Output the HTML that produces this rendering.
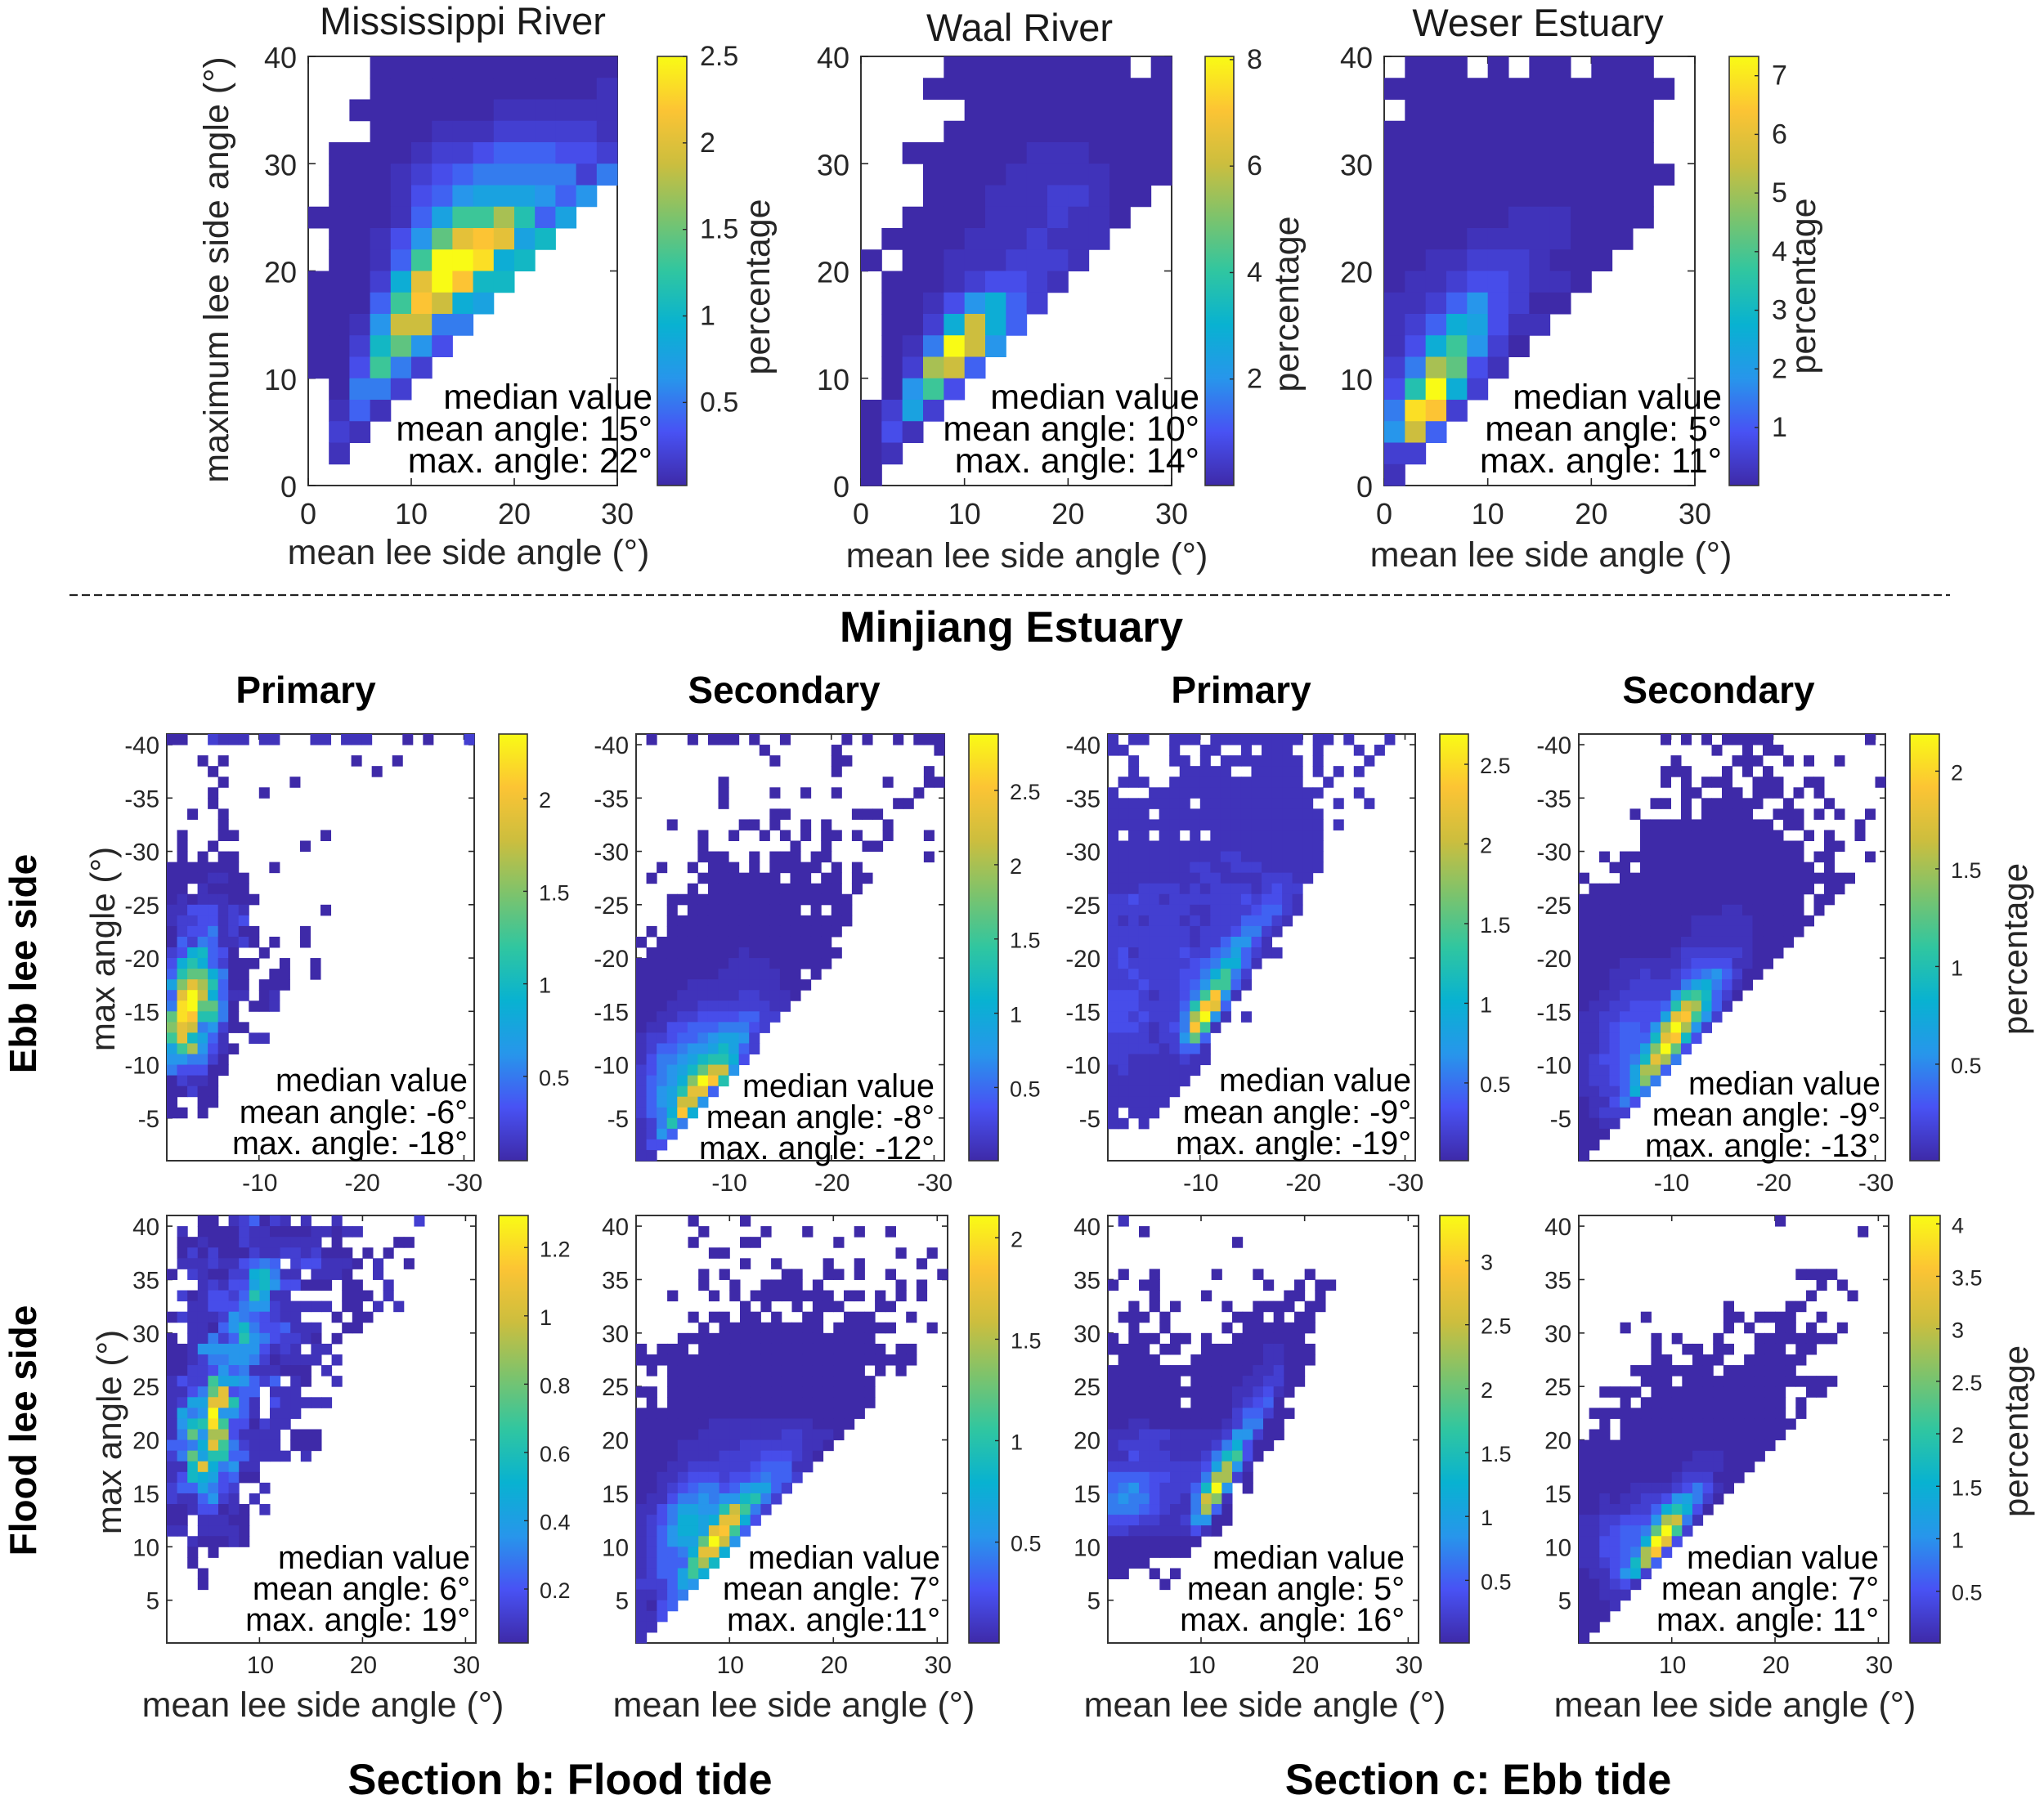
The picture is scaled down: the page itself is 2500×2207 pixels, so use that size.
<!DOCTYPE html>
<html lang="en">
<head>
<meta charset="utf-8">
<title>Lee side angle distributions</title>
<style>
html,body{margin:0;padding:0;background:#fff;}
svg{display:block;font-family:"Liberation Sans",Arial,sans-serif;}
text{fill:#262626;}
.hd{fill:#000;font-weight:bold;}
</style>
</head>
<body>
<svg id="figure" xmlns="http://www.w3.org/2000/svg" width="2500" height="2207" viewBox="0 0 2500 2207">
<defs><linearGradient id="parula" x1="0" y1="1" x2="0" y2="0"></linearGradient></defs>
<rect width="2500" height="2207" fill="#fff"/>
<line x1="85" y1="728" x2="2385" y2="728" stroke="#222" stroke-width="2.2" stroke-dasharray="10 5"/>
<text class="hd" x="1237" y="785" font-size="52.5" text-anchor="middle">Minjiang Estuary</text>
<text class="hd" x="374" y="860" font-size="46" text-anchor="middle">Primary</text>
<text class="hd" x="959" y="860" font-size="46" text-anchor="middle">Secondary</text>
<text class="hd" x="1518" y="860" font-size="46" text-anchor="middle">Primary</text>
<text class="hd" x="2102" y="860" font-size="46" text-anchor="middle">Secondary</text>
<text class="hd" x="685" y="2195" font-size="52.5" text-anchor="middle">Section b: Flood tide</text>
<text class="hd" x="1808" y="2195" font-size="52.5" text-anchor="middle">Section c: Ebb tide</text>
<text class="hd" x="44" y="1179" font-size="46" text-anchor="middle" transform="rotate(-90 44 1179)">Ebb lee side</text>
<text class="hd" x="44" y="1750" font-size="46" text-anchor="middle" transform="rotate(-90 44 1750)">Flood lee side</text>
</svg>
<script>
// Heatmap levels: 0 = no data, 1..20 = colour level (1 darkest, 20 yellow).
const mississippiLevels = [
[0,0,0,1,1,1,1,1,1,1,1,1,1,1,1],
[0,0,0,1,1,1,1,1,1,1,1,1,1,1,2],
[0,0,1,1,1,1,1,1,1,2,2,2,2,2,2],
[0,0,0,1,1,1,2,2,2,3,3,3,3,3,2],
[0,1,1,1,1,2,3,3,4,5,5,5,4,4,3],
[0,1,1,1,2,3,4,5,6,6,6,6,6,3,6],
[0,1,1,1,2,4,5,7,8,8,8,7,5,7],
[1,1,1,1,2,5,8,12,12,15,11,5,8],
[0,1,1,2,4,7,13,17,18,17,8,10],
[0,1,1,2,5,12,20,20,19,9,10],
[1,1,1,3,9,17,20,18,10,10],
[1,1,1,5,12,18,16,9,8],
[1,1,2,7,16,16,6,6],
[1,1,3,10,13,7,4],
[1,1,4,12,6,3],
[0,1,6,6,3],
[0,2,5,2],
[0,3,2],
[0,2],
[]];
const waalLevels = [
[0,0,0,0,1,1,1,1,1,1,1,1,1,0,1],
[0,0,0,1,1,1,1,1,1,1,1,1,1,1,1],
[0,0,0,0,0,1,1,1,1,1,1,1,1,1,1],
[0,0,0,0,1,1,1,1,1,1,1,1,1,1,1],
[0,0,1,1,1,1,1,1,2,2,2,1,1,1,1],
[0,0,0,1,1,1,1,2,2,2,2,2,1,1,1],
[0,0,0,1,1,1,2,2,2,3,3,2,1,1],
[0,0,1,1,1,1,2,2,2,3,2,2,1],
[0,1,1,1,1,2,2,2,3,2,2,2],
[1,0,1,1,2,2,2,3,3,3,2],
[0,1,1,1,2,3,4,4,3,2],
[0,1,1,2,4,7,9,5,3],
[0,1,1,3,9,16,9,5],
[0,1,2,6,20,16,7],
[0,1,3,15,16,5],
[0,1,7,12,4],
[1,3,8,3],
[1,4,2],
[1,2],
[1]];
const weserLevels = [
[0,1,1,1,0,1,0,1,1,0,1,1,1],
[1,1,1,1,1,1,1,1,1,1,1,1,1,1],
[0,1,1,1,1,1,1,1,1,1,1,1,1],
[1,1,1,1,1,1,1,1,1,1,1,1,1],
[1,1,1,1,1,1,1,1,1,1,1,1,1],
[1,1,1,1,1,1,1,1,1,1,1,1,1,1],
[1,1,1,1,1,1,1,1,1,1,1,1,1],
[1,1,1,1,1,1,2,2,2,1,1,1,1],
[1,1,1,1,2,2,2,2,2,1,1,1],
[1,1,2,2,3,3,3,2,1,1,1],
[1,2,2,3,4,4,3,2,2,1],
[2,2,3,5,7,4,3,1,1],
[2,3,5,9,8,4,2,2],
[2,4,9,12,7,3,1],
[3,6,15,13,4,2],
[4,11,20,9,3],
[6,19,18,3],
[7,16,5],
[3,3],
[2]];
const ebbPrimaryLevels = [
[1,1,0,0,3,2,2,2,0,2,2,0,0,0,2,2,0,2,2,2,0,0,0,1,0,1,0,0,0,3],
[],
[0,0,0,1,0,1,0,0,0,0,0,0,0,0,0,0,0,0,1,0,0,0,1],
[0,0,0,0,1,0,0,0,0,0,0,0,0,0,0,0,0,0,0,0,1],
[0,0,0,0,0,1,0,0,0,0,0,0,1],
[0,0,0,0,1,0,0,0,0,1],
[0,0,0,0,1],
[0,0,1,0,0,1],
[0,0,0,0,0,1],
[0,1,0,0,0,1,1,0,0,0,0,0,0,0,0,1],
[0,1,0,0,1,0,0,0,0,0,0,0,0,1],
[0,1,0,1,0,1,1],
[1,1,1,1,1,1,1,0,0,0,1],
[1,1,1,1,2,2,1,1],
[1,1,0,2,1,1,1,1],
[1,2,1,2,2,2,1,1,1],
[2,2,4,4,4,2,3,2,0,0,0,0,0,0,0,1],
[2,3,3,4,4,2,3,4],
[1,3,4,4,6,2,3,1,1,0,0,0,0,1],
[1,5,3,6,5,2,2,3,1,0,1,0,0,1],
[3,4,9,10,5,4,1,0,0,1],
[4,9,11,9,5,3,1,1,1,0,0,1,0,0,1],
[5,11,13,13,9,6,1,1,0,0,1,1,0,0,1],
[8,14,17,15,11,5,1,1,0,1,1,1],
[5,17,20,16,9,5,2,2,0,1,2],
[6,19,20,13,13,6,1,0,1,1,2],
[13,19,18,11,11,6,1],
[14,17,16,6,7,3,1,1],
[12,17,10,8,5,2,0,0,2,2],
[8,12,15,7,4,2,1],
[7,7,6,6,3,1],
[6,4,4,4,1,1],
[1,3,2,2,1],
[1,1,3,1,1],
[1,0,0,1,1],
[1,1,0,1],
[],[],[],[]];
const ebbSecondaryLevels = [
[0,1,0,0,0,1,0,1,1,1,0,1,0,0,1,0,0,0,0,0,1,0,1,0,0,1,0,1,1,1],
[0,0,0,0,0,0,0,0,0,0,0,0,1,0,0,0,0,0,0,1,0,0,0,0,0,0,0,0,0,1],
[0,0,0,0,0,0,0,0,0,0,0,0,0,1,0,0,0,0,0,1,1],
[0,0,0,0,0,0,0,0,0,0,0,0,0,0,0,0,0,0,0,1,0,0,0,0,0,0,0,0,1],
[0,0,0,0,0,0,0,0,1,0,0,0,0,0,0,0,0,0,0,0,0,0,0,0,1,0,0,0,1,1],
[0,0,0,0,0,0,0,0,1,0,0,0,0,1,0,0,1,0,0,1,0,0,0,0,0,0,0,1],
[0,0,0,0,0,0,0,0,1,0,0,0,0,0,0,0,0,0,0,0,0,0,0,0,0,1,1],
[0,0,0,0,0,0,0,0,0,0,0,0,0,1,1,0,0,0,0,0,0,1,1,1],
[0,0,0,1,0,0,0,0,0,0,1,1,0,1,0,0,1,0,1,0,0,0,0,0,1],
[0,0,0,0,0,0,1,0,0,1,0,0,1,0,1,0,1,0,1,1,0,1,0,0,1,0,0,0,1],
[0,0,0,0,0,0,1,0,0,0,0,0,0,0,0,1,0,0,1,0,0,0,1,1],
[0,0,0,0,0,0,1,1,1,0,0,1,0,1,1,1,0,1,1,0,0,0,0,0,0,0,0,0,1],
[0,0,1,0,0,1,0,1,1,1,0,1,0,1,1,1,1,1,0,1,0,1],
[0,1,0,0,0,0,1,1,1,1,1,1,1,1,0,1,1,0,1,1,0,1,1],
[0,0,0,0,0,1,0,1,1,1,1,1,1,1,1,1,1,1,1,1,0,1],
[0,0,0,1,1,1,1,1,1,1,1,1,1,1,1,1,1,1,1,1,1],
[0,0,0,1,0,1,1,1,1,1,1,1,1,1,1,1,0,1,0,1,1],
[0,0,0,1,1,1,1,1,1,1,1,1,1,1,1,1,1,1,1,1,1],
[0,1,0,1,1,1,1,1,1,1,1,1,1,1,1,1,1,1,1,1],
[1,0,1,1,1,1,1,1,1,1,1,1,1,1,1,1,1,1,1],
[0,1,1,1,1,1,1,1,1,1,2,1,1,1,1,1,1,1,1,1],
[1,1,1,1,1,1,1,1,1,2,2,2,2,1,1,1,1,1,1],
[1,1,1,1,1,1,1,1,2,2,2,2,2,2,1,1,0,1],
[1,1,1,1,1,2,2,2,2,2,2,2,2,2,1,1,1],
[1,1,1,1,2,2,2,2,2,2,3,3,2,2,2,1],
[1,1,1,2,2,2,3,3,3,3,3,3,3,2,2],
[1,1,2,2,3,3,4,4,4,4,5,5,3,3],
[1,2,2,4,4,5,5,5,6,6,6,4,3],
[2,3,3,4,5,5,6,7,8,8,7,3],
[2,3,5,5,6,7,7,8,10,8,5,3],
[2,4,6,6,7,8,10,11,11,9,4],
[3,4,6,7,8,10,13,16,16,7],
[3,5,6,7,9,14,20,18,11],
[3,5,7,8,11,17,17,5],
[3,5,7,8,16,16,7],
[3,5,6,9,18,9],
[2,3,6,11,6],
[2,3,7,5],
[2,4,4],
[2,2],
[2]].slice(0,40);
const ebbPrimary2Levels = [
[2,0,2,2,0,0,2,2,2,0,2,2,2,2,2,2,2,2,2,0,2,2,0,2,0,0,0,2],
[2,2,0,0,0,0,2,0,0,2,2,0,0,2,0,2,2,2,0,0,2,0,0,0,2,0,2],
[0,0,2,0,0,0,2,2,0,2,0,2,2,2,2,2,2,2,2,0,2,0,0,0,0,2],
[0,0,2,0,0,0,0,2,2,2,2,2,0,0,2,2,2,2,2,0,2,0,2,0,2],
[0,2,2,2,0,0,2,2,2,2,2,2,2,2,2,2,2,2,2,0,0,2],
[2,0,0,0,2,2,2,2,2,2,2,2,2,2,2,2,2,2,2,2,2,0,0,0,2],
[2,2,2,2,2,2,2,2,0,2,2,2,2,2,2,2,2,2,2,2,0,0,2,0,0,2],
[2,2,2,2,0,2,2,2,2,2,2,2,2,2,2,2,2,2,2,2,2],
[2,2,2,2,2,2,2,2,2,2,2,2,2,2,2,2,2,2,2,2,2,0,2],
[2,0,2,2,0,2,2,0,2,0,2,2,2,2,2,2,2,2,2,2,2],
[2,2,2,2,2,2,2,2,2,2,2,2,2,2,2,2,2,2,2,2,2],
[2,2,2,2,2,2,2,2,2,2,2,3,3,2,2,2,2,2,2,2,2],
[2,2,2,2,2,2,2,2,3,3,2,2,3,3,3,2,2,2,2,2,2],
[2,2,2,2,2,2,2,2,2,3,3,2,2,2,2,3,3,3,2,2],
[2,2,2,3,3,3,3,2,3,2,3,3,3,3,2,3,4,3,3],
[3,3,4,3,3,2,3,3,3,3,3,3,3,4,3,4,4,3,2],
[3,3,3,3,3,3,3,3,2,2,3,3,3,3,4,5,5,3,2],
[3,2,3,2,3,3,3,2,3,2,3,3,3,5,5,5,3,2],
[3,3,3,3,3,3,3,3,2,3,3,3,4,6,6,3,2],
[3,3,3,3,3,3,3,3,2,3,3,5,7,7,4,2],
[3,4,2,3,3,3,3,4,3,3,5,6,8,5,3,2,2],
[3,4,3,3,3,3,3,3,4,5,6,9,9,5,2],
[3,3,4,3,3,3,3,4,4,6,9,12,6,3],
[3,3,3,4,3,3,3,4,5,7,12,12,5,2],
[4,4,4,3,2,3,3,4,6,12,18,7,2],
[4,4,4,3,3,3,3,5,11,18,17,5],
[4,4,3,4,3,3,3,6,15,20,7,2,0,2],
[4,4,4,3,2,3,4,6,18,12,2],
[3,3,3,3,2,3,3,7,13,5],
[3,3,3,3,3,2,3,5,5,2],
[3,3,2,2,2,2,2,3,2,2],
[2,3,2,2,2,2,2,2,2],
[2,2,2,2,2,2,2,2],
[2,2,2,2,2,2,2],
[2,2,2,2,2,2],
[2,0,2,2,2],
[2,2,0,2],
[],[],[]];
const ebbSecondary2Levels = [
[0,0,0,0,0,0,0,0,1,0,1,0,1,0,1,1,1,1,1,0,0,0,0,0,0,0,0,0,1],
[0,0,0,0,0,0,0,0,0,0,0,0,0,1,0,0,1,0,1,1],
[0,0,0,0,0,0,0,0,0,1,0,0,0,0,0,1,1,1,0,0,1,0,1,0,0,1],
[0,0,0,0,0,0,0,0,1,1,1,0,0,0,1,0,1,0,1],
[0,0,0,0,0,0,0,0,1,0,1,0,1,1,1,0,0,1,1,1,0,0,1,1,0,0,0,0,0,1],
[0,0,0,0,0,0,0,0,0,0,1,1,0,0,1,1,0,1,1,1,0,1,0,1],
[0,0,0,0,0,0,0,1,1,0,1,0,1,1,1,1,1,1,0,0,1,0,0,0,1],
[0,0,0,0,0,1,0,0,0,0,1,0,1,1,1,1,1,0,0,1,1,1,0,1,0,1,0,0,1],
[0,0,0,0,0,0,1,1,1,1,1,1,1,1,1,1,1,1,1,0,1,1,0,0,0,0,0,1],
[0,0,0,0,0,0,1,1,1,1,1,1,1,1,1,1,1,1,1,1,0,0,1,0,1,0,0,1],
[0,0,0,0,0,0,1,1,1,1,1,1,1,1,1,1,1,1,1,1,1,1,0,0,1,1],
[0,0,1,0,1,1,1,1,1,1,1,1,1,1,1,1,1,1,1,1,1,1,0,1,1,0,0,0,1],
[0,0,0,1,1,0,1,1,1,1,1,1,1,1,1,1,1,1,1,1,1,1,1,0,1],
[1,0,0,0,1,1,1,1,1,1,1,1,1,1,1,1,1,1,1,1,1,1,1,1,1,1,1],
[0,1,1,1,1,1,1,1,1,1,1,1,1,1,1,1,1,1,1,1,1,1,1,0,1,1],
[1,1,1,1,1,1,1,1,1,1,1,1,1,1,1,1,1,1,1,1,1,1,0,1,1],
[1,1,1,1,1,1,1,1,1,1,1,1,1,1,2,2,1,1,1,1,1,1,0,1],
[1,1,1,1,1,1,1,1,1,1,1,2,2,2,2,2,2,1,1,1,1,1,1],
[1,1,1,1,1,1,1,1,1,1,1,2,2,2,2,2,2,1,1,1,1,1],
[1,1,1,1,1,1,1,1,1,1,2,2,2,2,2,2,2,1,1,1,1],
[1,1,1,1,1,1,1,1,1,2,3,3,3,3,3,3,2,1,1,1],
[1,1,1,1,2,2,2,2,2,2,3,4,4,4,4,2,2,1,1],
[1,1,1,2,2,2,3,2,2,3,4,5,6,7,5,3,1,1],
[1,1,1,2,2,3,3,3,3,3,6,8,9,6,4,2,1],
[1,1,2,2,3,3,3,3,3,7,11,12,10,5,3,1],
[1,2,2,3,3,4,4,4,5,11,16,15,9,5,2],
[2,2,3,3,4,4,4,4,8,17,18,12,7,3],
[2,2,3,4,5,5,4,7,15,20,15,7,3],
[2,2,3,4,5,5,5,10,17,18,10,4],
[2,2,3,4,5,5,8,14,20,13,4],
[2,3,4,4,5,6,10,17,15,6],
[2,3,3,4,5,8,15,15,5],
[2,3,3,4,5,8,14,6],
[2,2,3,3,5,9,6],
[1,2,2,4,6,4],
[1,2,3,3,3],
[1,1,2,2],
[1,1,1],
[1,1],
[1]];
const floodPrimaryLevels = [
[0,0,0,1,1,0,2,3,5,1,3,2,0,2,0,0,2,0,0,0,0,0,0,0,3],
[0,2,0,1,1,1,1,3,2,2,1,1,1,1,2,2,1,2,2],
[0,1,1,2,1,1,1,3,2,2,2,2,2,2,2,0,1,0,0,0,0,0,1,1],
[0,1,3,1,3,1,1,1,3,2,2,3,3,2,3,1,1,1,0,1,0,1],
[0,2,2,2,3,2,2,4,5,6,5,0,3,4,4,2,2,2,1,0,2,0,0,1],
[1,0,3,2,1,1,3,3,9,10,6,2,2,0,2,2,2,1,0,0,2],
[0,0,0,2,3,2,4,4,8,10,7,4,4,1,1,1,0,1,1,0,0,2],
[0,3,1,2,4,4,3,5,11,8,2,2,0,0,0,0,0,1,1,1,0,2],
[0,0,2,2,4,4,4,6,7,7,3,2,2,2,2,2,0,1,1,0,2,0,2],
[1,3,2,2,2,3,7,6,5,4,3,2,2,0,0,0,1,0,1,1],
[0,0,2,2,1,5,7,10,6,4,4,5,2,2,2,0,0,1,1],
[1,0,2,2,6,3,5,11,7,6,4,3,3,2,1,0,1],
[1,1,2,7,7,7,7,7,7,4,2,3,2,0,2,2],
[1,1,2,3,6,6,7,7,6,3,1,2,2,2,2,0,2],
[1,1,3,3,4,7,5,6,2,2,2,1,1,1,0,2],
[2,4,3,3,12,8,8,7,5,3,5,0,2,1,0,0,2],
[2,2,4,6,13,17,4,5,5,0,2,2,2],
[2,3,8,8,17,17,11,5,2,0,4,2,2,2,2,2],
[2,8,6,7,20,7,7,5,2,0,2,2,2],
[2,7,10,11,19,12,4,4,1,3,2,2],
[2,6,13,7,15,15,4,2,2,2,2,0,1,1,1],
[5,5,6,9,17,12,6,3,2,2,2,0,1,1,1],
[3,6,13,8,11,11,5,5,2,2,2,2,0,2],
[2,2,10,17,9,6,7,2,2],
[2,4,10,9,8,4,5,1,1],
[3,5,5,8,6,4,3,0,0,2],
[3,2,2,5,7,3,2,0,2],
[1,1,2,4,4,1,2,1,0,2],
[1,1,0,2,2,2,1,1],
[2,2,0,2,2,2,2,1],
[0,0,2,1,1,1,2,1],
[0,0,1,0,1],
[0,0,1],
[0,0,0,1],
[0,0,0,1],
[],[],[],[],[]];
const floodSecondaryLevels = [
[0,0,0,0,0,1,0,0,0,0,1],
[0,0,0,0,0,0,1,0,0,0,0,0,1,0,0,0,1,0,0,0,0,1,0,0,1],
[0,0,0,0,0,1,0,0,0,0,1,1,0,0,0,0,0,0,0,1],
[0,0,0,0,0,0,0,1,1,0,0,0,0,0,0,0,0,0,0,0,0,0,0,0,0,1,0,0,1],
[0,0,0,0,0,0,0,0,0,0,1,0,0,1,0,0,0,0,1,0,0,1,0,0,0,0,0,1],
[0,0,0,0,0,0,1,0,1,0,0,0,0,0,1,1,0,0,1,1,0,1,0,0,1,0,0,0,0,1],
[0,0,0,0,0,0,1,0,0,1,0,0,1,1,1,1,0,1,0,0,0,0,0,0,0,1,0,1],
[0,0,0,1,0,0,0,1,0,1,0,1,1,1,1,1,1,1,1,0,1,1,0,1,0,1,0,1],
[0,0,0,0,0,0,0,0,0,0,1,0,1,0,0,1,0,1,1,1,0,0,0,1,1],
[0,0,0,0,0,1,0,1,1,0,1,1,0,1,0,0,1,1,0,0,1,1,1,0,0,0,1],
[0,0,0,0,0,0,1,0,1,1,1,1,1,1,1,1,1,1,0,1,1,1,1,1,1,0,0,0,1],
[0,0,0,0,1,1,1,1,1,1,1,1,1,1,1,1,1,1,1,1,1,1,1],
[1,0,1,1,1,0,1,1,1,1,1,1,1,1,1,1,1,1,1,1,1,1,1,1,0,1,1],
[1,1,1,1,1,1,1,1,1,1,1,1,1,1,1,1,1,1,1,1,1,1,1,1,1,1,1],
[0,1,0,1,1,1,1,1,1,1,1,1,1,1,1,1,1,1,1,1,1,1,0,1,0,1],
[0,0,0,1,1,1,1,1,1,1,1,1,1,1,1,1,1,1,1,1,1,1,1],
[1,1,0,1,1,1,1,1,1,1,1,1,1,1,1,1,1,1,1,1,1,1,1],
[0,1,0,1,1,1,1,1,1,1,1,1,1,1,1,1,1,1,1,1,1,1,1],
[1,1,1,1,1,1,1,1,1,1,1,1,1,1,1,1,1,1,1,1,1,1],
[1,1,1,1,1,1,1,2,2,2,2,2,2,2,2,2,2,1,1,1,1],
[1,1,1,1,1,1,2,2,2,2,2,2,2,2,3,3,2,2,2,1],
[1,1,1,1,2,2,2,2,2,2,3,3,3,3,3,3,2,2,1],
[1,1,1,1,2,2,2,2,3,3,3,3,4,4,4,3,2,1],
[1,1,1,2,2,3,3,3,3,3,3,4,5,5,5,2,2],
[1,1,2,2,3,4,4,4,3,4,4,5,6,5,5,3],
[1,1,2,3,4,5,6,6,4,5,7,8,8,5,3],
[1,2,2,4,6,6,7,6,7,7,10,11,6,3],
[2,2,4,6,8,8,7,7,11,16,12,6,3],
[2,3,4,6,9,9,8,9,17,17,9,4],
[2,3,5,7,9,9,8,17,18,12,5],
[2,3,5,7,8,8,13,20,16,7],
[2,3,5,5,6,9,17,17,9],
[2,3,5,5,5,12,15,10],
[2,3,5,5,8,12,9],
[3,3,3,5,8,7],
[2,2,3,5,6],
[2,1,4,5],
[2,2,4],
[2,2],
[2]];
const floodPrimary2Levels = [
[0,2],
[0,0,0,1],
[0,0,0,0,0,0,0,0,0,0,0,0,1],
[],
[],
[0,1,0,0,1,0,0,0,0,0,1,0,0,0,1,0,0,0,0,1],
[1,0,0,1,1,0,0,0,0,0,0,0,0,0,0,1,0,0,1,0,1,1],
[0,0,0,0,1,0,0,0,0,1,0,0,0,0,0,0,0,1,1,0,1],
[0,0,1,0,1,0,1,0,0,0,0,1,0,0,1,1,1,1,0,1,1],
[0,1,1,1,0,1,0,0,0,0,0,0,1,1,1,0,1,0,1,1],
[0,0,1,0,0,1,0,0,0,0,0,1,0,1,1,1,1,1,1,1],
[1,0,1,1,1,0,1,1,0,1,0,0,1,1,1,1,1,1,1],
[1,1,1,1,0,1,1,0,0,1,1,1,1,1,1,2,2,1,1,1],
[0,1,1,1,1,0,0,0,1,1,1,1,1,1,1,2,2,1,1,1],
[1,1,1,1,1,1,1,1,1,1,1,1,1,1,2,2,3,1,1],
[1,1,1,1,1,1,1,0,1,1,1,1,1,2,2,3,3,1,1],
[1,1,1,1,1,1,1,1,1,1,1,1,2,2,3,4,2,1],
[1,1,1,1,1,1,1,0,1,1,1,1,2,3,4,5,1],
[1,1,1,1,1,1,1,1,1,1,1,1,3,5,5,3,1,1],
[1,1,2,2,1,1,1,1,1,1,1,2,3,6,6,1,1],
[2,2,2,3,3,3,2,2,2,2,2,3,7,7,3,1,1],
[2,3,3,3,3,2,2,2,2,2,3,6,9,4,1,1],
[2,2,4,3,3,3,2,2,2,3,6,10,12,4,1],
[3,3,3,3,3,3,3,3,3,4,8,15,7,2],
[5,5,5,5,4,4,3,3,3,6,15,15,3,1],
[5,6,7,5,4,3,3,3,5,10,20,7,0,1],
[6,7,6,6,4,3,3,2,6,16,14,2],
[6,6,6,5,4,3,2,2,6,15,5,1],
[4,4,4,3,3,2,2,3,7,7,1,1],
[3,3,2,2,2,2,2,2,4,2,1],
[1,1,1,1,1,1,1,1,1],
[1,1,1,1,1,1,1,1],
[1,1,1,1],
[1,1,0,0,1,0,1],
[0,0,0,0,0,1],
[],[],[],[],[]];
const floodSecondary2Levels = [
[0,0,0,0,0,0,0,0,0,0,0,0,0,0,0,0,0,0,0,1],
[0,0,0,0,0,0,0,0,0,0,0,0,0,0,0,0,0,0,0,0,0,0,0,0,0,0,0,1],
[],[],[],
[0,0,0,0,0,0,0,0,0,0,0,0,0,0,0,0,0,0,0,0,0,1,1,1,1],
[0,0,0,0,0,0,0,0,0,0,0,0,0,0,0,0,0,0,0,0,0,0,0,1,0,1],
[0,0,0,0,0,0,0,0,0,0,0,0,0,0,0,0,0,0,0,0,0,0,1,0,0,0,1],
[0,0,0,0,0,0,0,0,0,0,0,0,0,0,1,0,0,0,0,0,1,1],
[0,0,0,0,0,0,1,0,0,0,0,0,0,0,1,1,0,1,1,1,1,0,0,1],
[0,0,0,0,1,0,0,0,0,0,0,0,0,0,1,0,1,0,0,1,1,0,1,0,0,1],
[0,0,0,0,0,0,0,1,0,1,0,0,0,1,0,0,0,1,1,1,1,1,1,1,1],
[0,0,0,0,0,0,0,1,0,0,1,1,0,1,1,0,0,1,1,1,0,1,1],
[0,0,0,0,0,0,0,1,1,0,0,1,1,1,0,0,1,1,1,1,1,1],
[0,0,0,0,0,1,1,1,1,1,1,1,1,0,1,1,1,1,1,1,1],
[0,0,0,0,0,0,1,1,1,0,1,1,1,1,1,1,1,1,1,1,1,1,1,1,1],
[0,0,1,1,1,1,0,1,1,1,1,1,1,1,1,1,1,1,1,1,0,0,1,1],
[0,0,0,0,1,0,1,1,1,1,1,1,1,1,1,1,1,1,1,1,0,1],
[0,1,1,1,1,1,1,1,1,1,1,1,1,1,1,1,1,1,1,1,0,1],
[0,0,1,0,1,1,1,1,1,1,1,1,1,1,1,1,1,1,1,1,1],
[0,1,1,0,1,1,1,1,1,1,1,1,1,1,1,1,1,1,1,1],
[1,1,1,1,1,1,1,1,1,1,1,1,1,1,1,1,1,1,1],
[1,1,1,1,1,1,1,1,1,1,1,2,2,2,1,1,1,1],
[1,1,1,1,1,1,1,1,1,1,2,2,2,2,1,1,1],
[1,1,1,1,1,1,1,1,1,2,3,3,3,1,1,1],
[1,1,1,1,1,2,2,2,2,3,4,6,4,2,1],
[1,1,2,1,2,2,3,3,4,7,8,6,3,1],
[1,1,2,2,2,3,3,5,9,11,9,4,1],
[2,2,3,3,4,4,4,7,15,16,6,2],
[2,2,3,4,5,5,6,13,20,12,3],
[2,2,4,4,5,5,9,20,17,4],
[2,2,4,4,5,6,15,18,4],
[2,2,3,4,5,10,15,5],
[1,2,2,4,7,9,3],
[1,1,2,3,4,2],
[1,1,2,2,2],
[1,1,1,2],
[1,1,1],
[1,1],
[1]];

// Colour map and tick label arrays
const parulaStops = [[62,42,168],[72,82,244],[39,150,235],[8,178,209],[48,198,160],[125,195,108],[204,190,62],[252,196,52],[249,251,21]];
const mississippiBarTicks = [0.5,1,1.5,2,2.5];
const waalBarTicks = [2,4,6,8];
const weserBarTicks = [1,2,3,4,5,6,7];
const ebbPrimaryBarTicks = [0.5,1,1.5,2];
const ebbSecondaryBarTicks = [0.5,1,1.5,2,2.5];
const ebbPrimary2BarTicks = [0.5,1,1.5,2,2.5];
const ebbSecondary2BarTicks = [0.5,1,1.5,2];
const floodPrimaryBarTicks = [0.2,0.4,0.6,0.8,1,1.2];
const floodSecondaryBarTicks = [0.5,1,1.5,2];
const floodPrimary2BarTicks = [0.5,1,1.5,2,2.5,3];
const floodSecondary2BarTicks = [0.5,1,1.5,2,2.5,3,3.5,4];
const topXTicks = [0,10,20,30];
const topYTicks = [0,10,20,30,40];
const lowerXTicks = [10,20,30];
const lowerYTicks = [5,10,15,20,25,30,35,40];

const panels = [
 {id:'mississippi',levels:mississippiLevels,top:1,x0:377,x1:755,y0:69,y1:594,bx0:804,bx1:840,bmin:0.02,bmax:2.5,bticks:mississippiBarTicks,xl:[0,30],yl:[0,40],neg:false,
  title:'Mississippi River',tx:566,ty:42,ylabel:'maximum lee side angle (°)',ylx:279,yly:330,xlabel:'mean lee side angle (°)',xlx:573,xly:690,bl:'percentage',blx:941,bly:351,
  note:['median value','mean angle: 15°','max. angle: 22°'],nx:798,ny:[500,539,578]},
 {id:'waal',levels:waalLevels,top:1,x0:1053,x1:1433,y0:69,y1:594,bx0:1474,bx1:1509,bmin:0,bmax:8.06,bticks:waalBarTicks,xl:[0,30],yl:[0,40],neg:false,
  title:'Waal River',tx:1247,ty:50,xlabel:'mean lee side angle (°)',xlx:1256,xly:694,bl:'percentage',blx:1588,bly:372,
  note:['median value','mean angle: 10°','max. angle: 14°'],nx:1467,ny:[500,539,578]},
 {id:'weser',levels:weserLevels,top:1,x0:1693,x1:2073,y0:69,y1:594,bx0:2115,bx1:2151,bmin:0.01,bmax:7.33,bticks:weserBarTicks,xl:[0,30],yl:[0,40],neg:false,
  title:'Weser Estuary',tx:1881,ty:44,xlabel:'mean lee side angle (°)',xlx:1897,xly:693,bl:'percentage',blx:2220,bly:350,
  note:['median value','mean angle: 5°','max. angle: 11°'],nx:2106,ny:[500,539,578]},
 {id:'ebb-primary',levels:ebbPrimaryLevels,x0:204,x1:580,y0:898,y1:1420,bx0:610,bx1:645,bmin:0.044,bmax:2.35,bticks:ebbPrimaryBarTicks,xl:[1,31],yl:[1,41],neg:true,
  ylabel:'max angle (°)',ylx:140,yly:1161,note:['median value','mean angle: -6°','max. angle: -18°'],nx:572,ny:[1335,1374,1412]},
 {id:'ebb-secondary',levels:ebbSecondaryLevels,x0:778,x1:1155,y0:898,y1:1420,bx0:1185,bx1:1221,bmin:0.007,bmax:2.88,bticks:ebbSecondaryBarTicks,xl:[1,31],yl:[1,41],neg:true,
  note:['median value','mean angle: -8°','max. angle: -12°'],nx:1143,ny:[1342,1380,1418]},
 {id:'ebb-primary-2',levels:ebbPrimary2Levels,x0:1355,x1:1731,y0:898,y1:1420,bx0:1761,bx1:1796,bmin:0.012,bmax:2.69,bticks:ebbPrimary2BarTicks,xl:[1,31],yl:[1,41],neg:true,
  note:['median value','mean angle: -9°','max. angle: -19°'],nx:1726,ny:[1335,1374,1412]},
 {id:'ebb-secondary-2',levels:ebbSecondary2Levels,x0:1931,x1:2306,y0:898,y1:1420,bx0:2336,bx1:2372,bmin:0.006,bmax:2.19,bticks:ebbSecondary2BarTicks,xl:[1,31],yl:[1,41],neg:true,
  bl:'percentage',blx:2479,bly:1161,note:['median value','mean angle: -9°','max. angle: -13°'],nx:2300,ny:[1339,1377,1415]},
 {id:'flood-primary',levels:floodPrimaryLevels,x0:204,x1:582,y0:1487,y1:2010,bx0:610,bx1:646,bmin:0.042,bmax:1.294,bticks:floodPrimaryBarTicks,xl:[1,31],yl:[1,41],neg:false,
  ylabel:'max angle (°)',ylx:148,yly:1752,xlabel:'mean lee side angle (°)',xlx:395,xly:2100,note:['median value','mean angle: 6°','max. angle: 19°'],nx:575,ny:[1919,1957,1995]},
 {id:'flood-secondary',levels:floodSecondaryLevels,x0:778,x1:1159,y0:1487,y1:2010,bx0:1185,bx1:1222,bmin:0.003,bmax:2.11,bticks:floodSecondaryBarTicks,xl:[1,31],yl:[1,41],neg:false,
  xlabel:'mean lee side angle (°)',xlx:971,xly:2100,note:['median value','mean angle: 7°','max. angle:11°'],nx:1150,ny:[1919,1957,1995]},
 {id:'flood-primary-2',levels:floodPrimary2Levels,x0:1355,x1:1735,y0:1487,y1:2010,bx0:1761,bx1:1797,bmin:0.01,bmax:3.355,bticks:floodPrimary2BarTicks,xl:[1,31],yl:[1,41],neg:false,
  xlabel:'mean lee side angle (°)',xlx:1547,xly:2100,note:['median value','mean angle: 5°','max. angle: 16°'],nx:1718,ny:[1919,1957,1995]},
 {id:'flood-secondary-2',levels:floodSecondary2Levels,x0:1931,x1:2310,y0:1487,y1:2010,bx0:2336,bx1:2373,bmin:0.007,bmax:4.08,bticks:floodSecondary2BarTicks,xl:[1,31],yl:[1,41],neg:false,
  xlabel:'mean lee side angle (°)',xlx:2122,xly:2100,bl:'percentage',blx:2480,bly:1751,note:['median value','mean angle: 7°','max. angle: 11°'],nx:2298,ny:[1919,1957,1995]}
];

const NS='http://www.w3.org/2000/svg';
const fig=document.getElementById('figure');
const grad=document.getElementById('parula');
parulaStops.forEach(function(c,i){
  const s=document.createElementNS(NS,'stop');
  s.setAttribute('offset',(i/(parulaStops.length-1)));
  s.setAttribute('stop-color','rgb('+c.join(',')+')');
  grad.appendChild(s);
});
function colorFor(level){
  const t=Math.pow((level-1)/19,1.2)*(parulaStops.length-1);
  const i=Math.min(Math.floor(t),parulaStops.length-2), f=t-i;
  const a=parulaStops[i], b=parulaStops[i+1];
  return 'rgb('+[0,1,2].map(function(k){return Math.round(a[k]+(b[k]-a[k])*f);}).join(',')+')';
}
function addLine(parent,x1,y1,x2,y2,w){
  const l=document.createElementNS(NS,'line');
  l.setAttribute('x1',x1);l.setAttribute('y1',y1);l.setAttribute('x2',x2);l.setAttribute('y2',y2);
  l.setAttribute('stroke','#262626');l.setAttribute('stroke-width',w);
  
  
  parent.appendChild(l);
}
function addText(parent,str,x,y,size,anchor,name,rot,color){
  const t=document.createElementNS(NS,'text');
  t.setAttribute('x',x);t.setAttribute('y',y);t.setAttribute('font-size',size);t.setAttribute('text-anchor',anchor);
  if(rot)t.setAttribute('transform','rotate(-90 '+x+' '+y+')');
  if(color)t.setAttribute('style','fill:'+color);
  t.textContent=str;
  
  
  parent.appendChild(t);
}
panels.forEach(function(p){
  const g=document.createElementNS(NS,'g');
  
  
  fig.appendChild(g);
  const sx=function(v){return p.x0+(v-p.xl[0])/(p.xl[1]-p.xl[0])*(p.x1-p.x0);};
  const sy=function(v){return p.y1-(v-p.yl[0])/(p.yl[1]-p.yl[0])*(p.y1-p.y0);};
  const frame=document.createElementNS(NS,'rect');
  frame.setAttribute('x',p.x0);frame.setAttribute('y',p.y0);frame.setAttribute('width',p.x1-p.x0);frame.setAttribute('height',p.y1-p.y0);
  frame.setAttribute('fill','#fff');frame.setAttribute('stroke','#333');frame.setAttribute('stroke-width','2');
  
  
  g.appendChild(frame);
  const xt=p.top?topXTicks:lowerXTicks, yt=p.top?topYTicks:lowerYTicks, tl=p.top?9:7;
  xt.forEach(function(v){
    const x=sx(v);
    addLine(g,x,p.y1,x,p.y1-tl,1.6);
    addLine(g,x,p.y0,x,p.y0+tl,1.6);
    const lab=(p.neg?'-':'')+v;
    addText(g,lab,p.top?x:x+1,p.top?p.y1+47:p.y1+37,p.top?36:30,'middle','x-tick-label');
  });
  yt.forEach(function(v){
    const y=sy(v);
    addLine(g,p.x0,y,p.x0+tl,y,1.6);
    addLine(g,p.x1,y,p.x1-tl,y,1.6);
    const lab=(p.neg?'-':'')+v;
    addText(g,lab,p.x0-(p.top?14:9),y+(p.top?14:11),p.top?36:29.5,'end','y-tick-label');
  });
  const rows=p.levels.length, cols=p.top?15:30;
  const dataX=(p.xl[1]-p.xl[0])/cols, dataY=(p.yl[1]-p.yl[0])/rows;
  p.levels.forEach(function(row,r){
    row.forEach(function(v,c){
      if(!v)return;
      const xa=sx(p.xl[0]+c*dataX), xb=sx(p.xl[0]+(c+1)*dataX);
      const ya=sy(p.yl[1]-r*dataY), yb=sy(p.yl[1]-(r+1)*dataY);
      const cell=document.createElementNS(NS,'rect');
      cell.setAttribute('x',xa);cell.setAttribute('y',ya);
      cell.setAttribute('width',xb-xa+0.5);cell.setAttribute('height',yb-ya+0.5);
      cell.setAttribute('fill',colorFor(v));
      
      
      g.appendChild(cell);
    });
  });
  const bar=document.createElementNS(NS,'rect');
  bar.setAttribute('x',p.bx0);bar.setAttribute('y',p.y0);bar.setAttribute('width',p.bx1-p.bx0);bar.setAttribute('height',p.y1-p.y0);
  bar.setAttribute('fill','url(#parula)');bar.setAttribute('stroke','#333');bar.setAttribute('stroke-width','1.6');
  
  
  g.appendChild(bar);
  p.bticks.forEach(function(v){
    const y=p.y1-(v-p.bmin)/(p.bmax-p.bmin)*(p.y1-p.y0);
    addLine(g,p.bx1-5,y,p.bx1,y,1.4);
    addText(g,String(v),p.bx1+(p.top?16:14),y+(p.top?11:11),p.top?34:27,'start','colorbar-tick-label');
  });
  if(p.title)addText(g,p.title,p.tx,p.ty,47,'middle','panel-title',false,'#1a1a1a');
  if(p.ylabel)addText(g,p.ylabel,p.ylx,p.yly,p.top?43:42,'middle','y-axis-title',true);
  if(p.xlabel)addText(g,p.xlabel,p.xlx,p.xly,43,'middle','x-axis-title');
  if(p.bl)addText(g,p.bl,p.blx,p.bly,p.top?43:42,'middle','colorbar-title',true);
  p.note.forEach(function(s,i){
    addText(g,s,p.nx,p.ny[i],p.top?43:39.5,'end','median-annotation',false,'#000');
  });
});
</script>
</body>
</html>
